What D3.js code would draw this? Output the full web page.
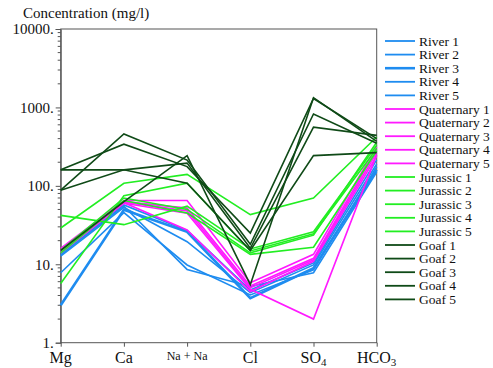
<!DOCTYPE html>
<html>
<head>
<meta charset="utf-8">
<script src="https://cdn.jsdelivr.net/npm/d3@7"></script>
<style>
  body { margin: 0; background: #fff; }
  svg text { font-family: "Liberation Serif", "DejaVu Serif", serif !important; }
</style>
</head>
<body>
<div id="chart"></div>
<script>
const ions = ["Mg", "Ca", "Na", "Cl", "SO4", "HCO3"];
const yTicks = [1, 10, 100, 1000, 10000];

const seriesNames = [
  "River 1", "River 2", "River 3", "River 4", "River 5",
  "Quaternary 1", "Quaternary 2", "Quaternary 3", "Quaternary 4", "Quaternary 5",
  "Jurassic 1", "Jurassic 2", "Jurassic 3", "Jurassic 4", "Jurassic 5",
  "Goaf 1", "Goaf 2", "Goaf 3", "Goaf 4", "Goaf 5"
];
const groups = ["River", "Quaternary", "Jurassic", "Goaf"];
const groupColors = ["#1e8cf0", "#ff1aff", "#22ee22", "#0f4a17"];

// Mg, Ca, Na+Na, Cl, SO4, HCO3 (mg/l)
const river1 = [13.8, 57, 27, 4.7, 10.4, 214];
const river2 = [12.7, 53, 19.4, 4.35, 9.8, 190];
const river3 = [3.0, 49.5, 26, 3.7, 8.9, 160];
const river4 = [7.8, 45.6, 9.8, 4.06, 8.5, 175];
const river5 = [13.2, 55, 8.6, 5.2, 7.8, 150];

const quat1 = [16, 65, 65, 5.8, 13.4, 316];
const quat2 = [15.2, 63, 52, 5.3, 11.9, 290];
const quat3 = [14.5, 62, 48, 5.0, 11.4, 265];
const quat4 = [14, 60, 44.8, 4.8, 2.0, 250];
const quat5 = [15, 61, 27.4, 4.5, 10.9, 240];

const jur1 = [42, 32, 55, 15.7, 26, 330];
const jur2 = [29, 108, 140, 43, 70, 420];
const jur3 = [5.7, 75, 108, 14.8, 24.5, 300];
const jur4 = [15, 70, 50, 14, 23.5, 360];
const jur5 = [14, 65, 45, 13.4, 16.5, 280];

const goaf1 = [160, 340, 176, 25, 1300, 400];
const goaf2 = [88, 459, 213, 18, 826, 350];
const goaf3 = [160, 160, 195, 16, 559, 440];
const goaf4 = [88, 160, 108, 15, 243, 265];
const goaf5 = [15, 63, 243, 5.5, 1330, 370];

const allValues = [
  river1, river2, river3, river4, river5,
  quat1, quat2, quat3, quat4, quat5,
  jur1, jur2, jur3, jur4, jur5,
  goaf1, goaf2, goaf3, goaf4, goaf5
];

const data = seriesNames.map((name, i) => ({
  name,
  group: groups[Math.floor(i / 5)],
  values: allValues[i],
  thick: name === "River 3"
}));

const width = 493, height = 368;
const margin = { top: 29, right: 116.3, bottom: 25.3, left: 60.7 };
const serif = "Liberation Serif, DejaVu Serif, serif";

const svg = d3.select("#chart").append("svg")
  .attr("width", width)
  .attr("height", height)
  .attr("font-family", serif);

const x = d3.scalePoint()
  .domain(ions)
  .range([margin.left, width - margin.right]);

const y = d3.scaleLog()
  .domain([1, 10000])
  .range([height - margin.bottom, margin.top]);

const color = d3.scaleOrdinal().domain(groups).range(groupColors);

// frame
svg.append("rect")
  .attr("x", margin.left)
  .attr("y", margin.top)
  .attr("width", width - margin.right - margin.left)
  .attr("height", height - margin.bottom - margin.top)
  .attr("fill", "none")
  .attr("stroke", "#555")
  .attr("stroke-width", 1);

// y axis with minor ticks
const minorTicks = [];
for (let d = 1; d < 10000; d *= 10) {
  for (let k = 2; k <= 9; k++) minorTicks.push(d * k);
}
const yAxis = svg.append("g")
  .attr("transform", `translate(${margin.left},0)`)
  .call(d3.axisLeft(y).tickValues(yTicks).tickSize(5).tickFormat(d => d + "."))
  .attr("font-family", serif)
  .attr("font-size", 15);
yAxis.select(".domain").attr("stroke", "#555");
yAxis.selectAll(".tick line").attr("stroke", "#555");
yAxis.selectAll(".tick text")
  .attr("fill", "#111")
  .attr("x", -7);

svg.append("g")
  .selectAll("line")
  .data(minorTicks)
  .join("line")
  .attr("x1", margin.left - 3)
  .attr("x2", margin.left)
  .attr("y1", d => y(d))
  .attr("y2", d => y(d))
  .attr("stroke", "#555");

// x ticks
const xAxis = svg.append("g")
  .attr("transform", `translate(0,${height - margin.bottom})`)
  .call(d3.axisBottom(x).tickSize(4).tickFormat(""));
xAxis.select(".domain").remove();
xAxis.selectAll(".tick line").attr("stroke", "#555");

// x labels with subscripts
const xLabels = svg.append("g")
  .attr("font-size", 16)
  .attr("fill", "#111")
  .attr("text-anchor", "middle");
ions.forEach(ion => {
  const t = xLabels.append("text")
    .attr("x", x(ion))
    .attr("y", height - margin.bottom + 20);
  if (ion === "Na") {
    t.attr("font-size", 12).attr("y", height - margin.bottom + 17).text("Na + Na");
  } else if (ion === "SO4" || ion === "HCO3") {
    t.append("tspan").text(ion.slice(0, -1));
    t.append("tspan").attr("font-size", 11).attr("dy", 3).text(ion.slice(-1));
  } else {
    t.text(ion);
  }
});

// title
svg.append("text")
  .attr("x", 23)
  .attr("y", 18)
  .attr("font-size", 15)
  .attr("fill", "#111")
  .text("Concentration (mg/l)");

// lines
const line = d3.line()
  .x((d, i) => x(ions[i]))
  .y(d => y(d));

svg.append("g")
  .attr("fill", "none")
  .selectAll("path")
  .data(data)
  .join("path")
  .attr("stroke", d => color(d.group))
  .attr("stroke-width", d => d.thick ? 2.6 : 1.6)
  .attr("stroke-linejoin", "miter")
  .attr("d", d => line(d.values));

// legend
const legend = svg.append("g")
  .attr("transform", "translate(385,41)");
const row = legend.selectAll("g")
  .data(data)
  .join("g")
  .attr("transform", (d, i) => `translate(0,${i * 13.6})`);
row.append("line")
  .attr("x1", 0).attr("x2", 30)
  .attr("stroke", d => color(d.group))
  .attr("stroke-width", d => d.thick ? 2.6 : 1.8);
row.append("text")
  .attr("x", 34)
  .attr("y", 4.5)
  .attr("font-size", 13.5)
  .attr("fill", "#111")
  .text(d => d.name);
</script>
</body>
</html>
